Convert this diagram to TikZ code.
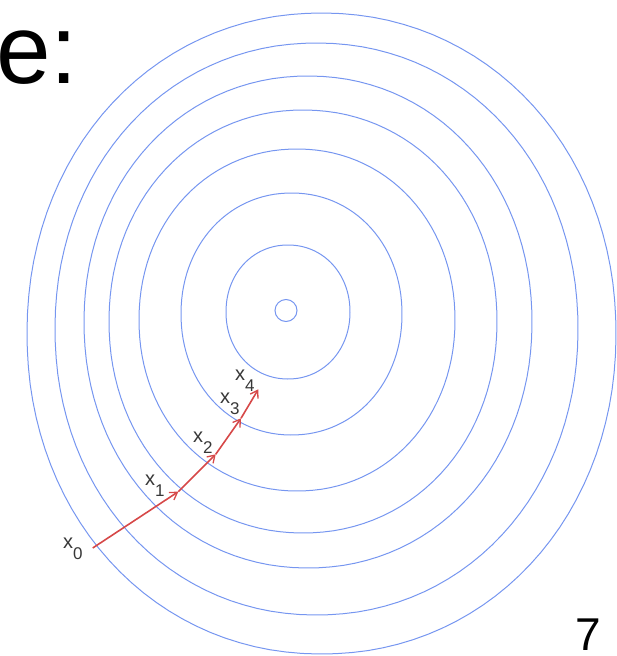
\documentclass[tikz,border=0pt]{standalone}
\usepackage{fontspec}
\setmainfont{Liberation Sans}
\usetikzlibrary{arrows.meta}
\definecolor{contourblue}{RGB}{118,150,240}
\definecolor{descentred}{RGB}{214,72,72}
\definecolor{labelgray}{RGB}{55,55,55}
\begin{document}
\begin{tikzpicture}[x=1pt,y=-1pt,
  contour/.style={draw=contourblue, line width=1pt},
  descent/.style={draw=descentred, line width=1.6pt,
    -{Straight Barb[length=7pt,width=9pt,line width=1.3pt]}},
  steplabel/.style={anchor=base west, inner sep=0pt, text=labelgray,
    font=\fontsize{20}{20}\selectfont},
  bigtext/.style={anchor=base west, inner sep=0pt, text=black}
]
\useasboundingbox (0,0) rectangle (617,656);

% contour lines
\foreach \cx/\cy/\rx/\ry in {288/312/62/67, 291.5/314/110.5/121, 297/320/158/171,
    303/321.5/194/211.5, 308/322/224/246, 316.5/329/261.5/286, 321.5/333.5/294.5/320.5}{
  \draw[contour] plot[domain=0.5:360.5, samples=121, variable=\t]
    ({\cx + \rx*pow(abs(cos(\t)),0.97)*cos(\t)/abs(cos(\t))},
     {\cy + \ry*pow(abs(sin(\t)),0.97)*sin(\t)/abs(sin(\t))}) -- cycle;
}
\draw[contour] (286,310.5) circle[radius=11];

% iterates
\coordinate (p0) at (92.7,548);
\coordinate (p1) at (178.3,491.7);
\coordinate (p2) at (215.7,454.3);
\coordinate (p3) at (241,418.3);
\coordinate (p4) at (258.3,389.3);
\draw[descent] (p0) -- (p1);
\draw[descent] (p1) -- (p2);
\draw[descent] (p2) -- (p3);
\draw[descent] (p3) -- (p4);

\newcommand\lowdigit[1]{\raisebox{-11pt}{\fontsize{17}{17}\selectfont #1}}
\node[steplabel] (l0) at (63,548) {x\lowdigit{0}};
\node[steplabel] (l1) at (145,485) {x\lowdigit{1}};
\node[steplabel] (l2) at (193,442) {x\lowdigit{2}};
\node[steplabel] (l3) at (220,403) {x\lowdigit{3}};
\node[steplabel] (l4) at (235,380) {x\lowdigit{4}};

% slide text
\node[bigtext, font=\fontsize{98}{98}\selectfont] (title) at (-4,83) {e:};
\node[bigtext, font=\fontsize{46}{46}\selectfont] (pagenum) at (575,650) {7};
\end{tikzpicture}
\end{document}
